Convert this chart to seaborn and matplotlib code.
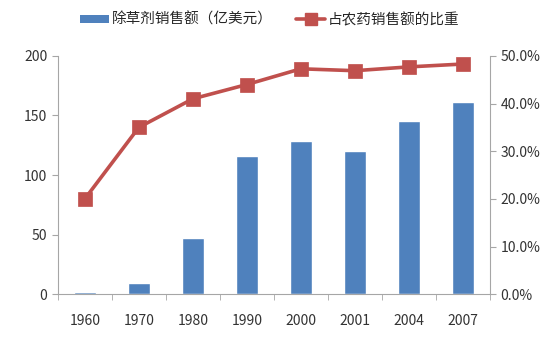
import numpy as np
import pandas as pd
import matplotlib
matplotlib.use("Agg")
import matplotlib.pyplot as plt
import seaborn as sns
from matplotlib.patches import Patch
from matplotlib.lines import Line2D
from matplotlib.ticker import FuncFormatter

years = ["1960", "1970", "1980", "1990", "2000", "2001", "2004", "2007"]
sales = [1.5, 9, 47, 116, 128.5, 120, 145, 161]          # 除草剂销售额（亿美元）
share = [20.0, 35.0, 41.0, 44.0, 47.3, 46.9, 47.7, 48.3]  # 占农药销售额的比重 (%)

df = pd.DataFrame({"year": years, "sales": sales, "share": share})

sns.set_style("white")
plt.rcParams['font.family'] = ['Noto Sans CJK SC', 'DejaVu Sans']

blue = "#4F81BD"
red = "#C0504D"
gray = "#A6A6A6"

fig = plt.figure(figsize=(5.56, 3.54), dpi=100)
ax = fig.add_axes([0.104, 0.169, 0.777, 0.673])

sns.barplot(data=df, x="year", y="sales", color=blue, width=0.4, saturation=1, ax=ax)
ax.set_ylim(0, 200)
ax.set_yticks([0, 50, 100, 150, 200])
ax.set_xlim(-0.5, 7.5)
ax.set_xlabel("")
ax.set_ylabel("")

ax2 = ax.twinx()
sns.pointplot(data=df, x="year", y="share", color=red, marker="s", markersize=9,
              linewidth=2.6, ax=ax2)
ax2.set_ylim(0, 50)
ax2.set_yticks([0, 10, 20, 30, 40, 50])
ax2.yaxis.set_major_formatter(FuncFormatter(lambda v, p: f"{v:.1f}%"))
ax2.set_ylabel("")
ax2.set_xlim(-0.5, 7.5)

# axes styling like Excel
for a in (ax, ax2):
    for s in a.spines.values():
        s.set_visible(False)
ax.spines["left"].set_visible(True)
ax.spines["bottom"].set_visible(True)
ax2.spines["right"].set_visible(True)
for s in (ax.spines["left"], ax.spines["bottom"], ax2.spines["right"]):
    s.set_color(gray)
    s.set_linewidth(0.8)

ax.tick_params(axis="y", left=True, length=4, color=gray, labelsize=10, labelcolor="#333333")
ax.tick_params(axis="x", bottom=False, labelsize=10, labelcolor="#333333", pad=11)
ax2.tick_params(axis="y", right=True, length=4, color=gray, labelsize=10, labelcolor="#333333")

# x tick marks between categories
ax.set_xticks(np.arange(-0.5, 8.0, 1.0), minor=True)
ax.tick_params(axis="x", which="minor", bottom=True, length=4, color=gray)

handles = [Patch(facecolor=blue, edgecolor="none"),
           Line2D([], [], color=red, marker="s", markersize=8, linewidth=2.6)]
labels = ["除草剂销售额（亿美元）", "占农药销售额的比重"]
fig.legend(handles, labels, loc="center", bbox_to_anchor=(0.485, 0.944), ncol=2,
           frameon=False, fontsize=10.5, handlelength=2.0, handleheight=0.45,
           columnspacing=1.6, handletextpad=0.2)

fig.savefig("out.png", dpi=100)
